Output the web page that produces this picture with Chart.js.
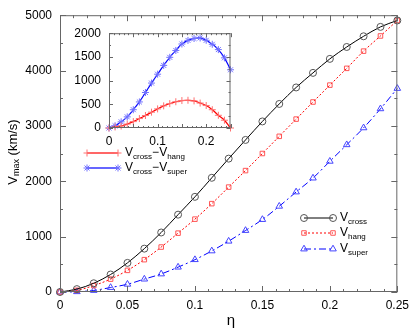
<!DOCTYPE html>
<html lang="en">
  <head>
    <meta charset="UTF-8" />
    <title>Vmax vs eta</title>
    <style>
      body { margin: 0; background: #fff; }
      .wrap { position: relative; width: 415px; height: 332px; }
      #inset { position: absolute; left: 65px; top: 18px; }
    </style>
    <script src="https://cdn.jsdelivr.net/npm/chart.js@4.4.0/dist/chart.umd.min.js"></script>
  </head>
  <body>
    <div class="wrap">
      <canvas id="mainChart" width="415" height="332"></canvas>
      <canvas id="inset" width="170" height="132"></canvas>
    </div>
    <script>
      // eta values (same grid for every curve)
      const eta = [0, 0.0125, 0.025, 0.0375, 0.05, 0.0625, 0.075, 0.0875, 0.1, 0.1125, 0.125,
        0.1375, 0.15, 0.1625, 0.175, 0.1875, 0.2, 0.2125, 0.225, 0.2375, 0.25];

      // main panel, km/s
      const vCross = [0, 52, 158, 316, 526, 783, 1075, 1397, 1719, 2063, 2409,
        2747, 3081, 3397, 3695, 3958, 4211, 4426, 4619, 4789, 4905];
      const vHang = [0, 30, 116, 233, 391, 584, 812, 1063, 1316, 1596, 1895,
        2193, 2502, 2812, 3123, 3432, 3737, 4040, 4351, 4625, 4905];
      const vSuper = [0, 5, 28, 81, 140, 233, 326, 449, 584, 742, 918,
        1111, 1309, 1549, 1807, 2058, 2361, 2660, 2965, 3309, 3677];

      // inset, km/s
      const diffHang = [0, 22, 42, 83, 135, 199, 263, 334, 403, 467, 514,
        554, 579, 585, 572, 526, 474, 386, 268, 164, 0];
      const diffSuper = [0, 47, 130, 235, 386, 550, 749, 948, 1135, 1321, 1491,
        1636, 1772, 1848, 1888, 1900, 1850, 1766, 1654, 1480, 1228];

      const mainXTicks = [0, 0.05, 0.1, 0.15, 0.2, 0.25];
      const mainYTicks = [0, 1000, 2000, 3000, 4000, 5000];
      const insetXTicks = [0, 0.1, 0.2];
      const insetYTicks = [0, 500, 1000, 1500, 2000];

      const FONT = "'Liberation Sans', Arial, sans-serif";
      const pts = (ys) => eta.map((x, i) => ({ x: x, y: ys[i] }));

      // frame + inward ticks on all four sides
      const frameTicks = {
        id: "frameTicks",
        afterDraw(chart, args, opts) {
          const ctx = chart.ctx;
          const a = chart.chartArea;
          const xs = chart.scales.x, ys = chart.scales.y;
          ctx.save();
          ctx.strokeStyle = "#666";
          ctx.lineWidth = 1;
          ctx.strokeRect(a.left + 0.5, a.top + 0.5, a.right - a.left - 1, a.bottom - a.top - 1);
          ctx.beginPath();
          const nx = Math.round((xs.max - xs.min) / opts.xMinor);
          for (let i = 0; i <= nx; i++) {
            const v = xs.min + i * opts.xMinor;
            const big = Math.abs(v / opts.xMajor - Math.round(v / opts.xMajor)) < 1e-6;
            const len = big ? opts.bigLen : opts.smallLen;
            const px = Math.round(xs.getPixelForValue(v)) + 0.5;
            ctx.moveTo(px, a.bottom); ctx.lineTo(px, a.bottom - len);
            ctx.moveTo(px, a.top); ctx.lineTo(px, a.top + len);
          }
          const ny = Math.round((ys.max - ys.min) / opts.yMinor);
          for (let i = 0; i <= ny; i++) {
            const v = ys.min + i * opts.yMinor;
            const big = Math.abs(v / opts.yMajor - Math.round(v / opts.yMajor)) < 1e-6;
            const len = big ? opts.bigLen : opts.smallLen;
            const py = Math.round(ys.getPixelForValue(v)) + 0.5;
            ctx.moveTo(a.left, py); ctx.lineTo(a.left + len, py);
            ctx.moveTo(a.right, py); ctx.lineTo(a.right - len, py);
          }
          ctx.stroke();
          ctx.restore();
        }
      };

      // text with subscripts: parts = [[text, isSub], ...]
      function subText(ctx, parts, x, y, size) {
        let cx = x;
        parts.forEach(([t, sub]) => {
          ctx.font = (sub ? Math.round(size * 0.68) : size) + "px " + FONT;
          ctx.fillText(t, cx, sub ? y + size * 0.3 : y);
          cx += ctx.measureText(t).width;
        });
        return cx - x;
      }
      function subWidth(ctx, parts, size) {
        let w = 0;
        parts.forEach(([t, sub]) => {
          ctx.font = (sub ? Math.round(size * 0.68) : size) + "px " + FONT;
          w += ctx.measureText(t).width;
        });
        return w;
      }

      function legendRow(ctx, x1, x2, y, ds, parts) {
        ctx.save();
        ctx.strokeStyle = ds.borderColor;
        ctx.lineWidth = ds.borderWidth;
        ctx.setLineDash(ds.borderDash || []);
        ctx.beginPath();
        ctx.moveTo(x1, y); ctx.lineTo(x2, y);
        ctx.stroke();
        ctx.setLineDash([]);
        ctx.fillStyle = "rgba(0,0,0,0)";
        ctx.strokeStyle = ds.pointBorderColor;
        ctx.lineWidth = 1;
        [x1, x2].forEach(px => Chart.helpers.drawPoint(ctx,
          { pointStyle: ds.pointStyle, radius: ds.pointRadius, rotation: 0, borderWidth: 1 }, px, y));
        ctx.fillStyle = "#000";
        ctx.textBaseline = "middle";
        ctx.textAlign = "left";
        subText(ctx, parts, x2 + 7, y, 12);
        ctx.restore();
      }

      const mainDs = [
        { label: "Vcross", data: pts(vCross), borderColor: "#000", pointBorderColor: "#555",
          borderWidth: 1, pointStyle: "circle", pointRadius: 3.5 },
        { label: "Vhang", data: pts(vHang), borderColor: "#ff0000", pointBorderColor: "#ff5555",
          borderWidth: 1, borderDash: [2, 2], pointStyle: "rect", pointRadius: 3.2 },
        { label: "Vsuper", data: pts(vSuper), borderColor: "#0000ff", pointBorderColor: "#4444ff",
          borderWidth: 1, borderDash: [7, 3, 2, 3], pointStyle: "triangle", pointRadius: 3.8 }
      ];
      const insetDs = [
        { label: "Vcross-Vhang", data: pts(diffHang), borderColor: "#ff0000", pointBorderColor: "#ff7070",
          borderWidth: 1.2, pointStyle: "cross", pointRadius: 3.5 },
        { label: "Vcross-Vsuper", data: pts(diffSuper), borderColor: "#0000ff", pointBorderColor: "#7070ff",
          borderWidth: 1.2, pointStyle: "star", pointRadius: 3.5 }
      ];
      [...mainDs, ...insetDs].forEach(d => {
        d.backgroundColor = "rgba(0,0,0,0)";
        d.pointBackgroundColor = "rgba(0,0,0,0)";
        d.pointBorderWidth = 1;
        d.pointHoverRadius = d.pointRadius;
        d.fill = false;
        d.clip = false;
      });
      mainDs.forEach(d => { d.cubicInterpolationMode = "monotone"; });
      insetDs.forEach(d => { d.tension = 0.4; });

      // axis titles and legends (subscripts need manual text)
      const labelsPlugin = {
        id: "labelsPlugin",
        afterDraw(chart) {
          const ctx = chart.ctx;
          ctx.save();
          ctx.fillStyle = "#000";
          ctx.textBaseline = "middle";
          // y title
          const yParts = [["V", false], ["max", true], [" (km/s)", false]];
          const w = subWidth(ctx, yParts, 13);
          ctx.save();
          ctx.translate(13, 152);
          ctx.rotate(-Math.PI / 2);
          ctx.textAlign = "left";
          subText(ctx, yParts, -w / 2, 0, 13);
          ctx.restore();
          // x title
          ctx.font = "15px " + FONT;
          ctx.textAlign = "center";
          ctx.fillText("\u03b7", 231, 321);
          ctx.restore();

          legendRow(ctx, 304, 333, 218, mainDs[0], [["V", false], ["cross", true]]);
          legendRow(ctx, 304, 333, 233, mainDs[1], [["V", false], ["hang", true]]);
          legendRow(ctx, 304, 333, 249, mainDs[2], [["V", false], ["super", true]]);

          legendRow(ctx, 87, 118, 153, insetDs[0],
            [["V", false], ["cross", true], ["\u2212V", false], ["hang", true]]);
          legendRow(ctx, 87, 118, 168, insetDs[1],
            [["V", false], ["cross", true], ["\u2212V", false], ["super", true]]);
        }
      };

      function axes(xMax, yMax, xTicks, yTicks, yWidth, xHeight) {
        const tickFont = { family: FONT, size: 12 };
        return {
          x: {
            type: "linear", min: 0, max: xMax,
            grid: { display: false, drawTicks: false },
            border: { display: false },
            afterBuildTicks: s => { s.ticks = xTicks.map(v => ({ value: v })); },
            afterFit: s => { s.height = xHeight; },
            ticks: { color: "#000", font: tickFont, padding: 6, maxRotation: 0,
              callback: v => String(v) }
          },
          y: {
            type: "linear", min: 0, max: yMax,
            grid: { display: false, drawTicks: false },
            border: { display: false },
            afterBuildTicks: s => { s.ticks = yTicks.map(v => ({ value: v })); },
            afterFit: s => { s.width = yWidth; },
            ticks: { color: "#000", font: tickFont, padding: 8,
              callback: v => String(v) }
          }
        };
      }

      new Chart(document.getElementById("mainChart").getContext("2d"), {
        type: "line",
        data: { datasets: mainDs },
        options: {
          responsive: false,
          devicePixelRatio: 1,
          animation: false,
          layout: { padding: { left: 0, right: 12, top: 6, bottom: 0 } },
          scales: axes(0.25, 5000, mainXTicks, mainYTicks, 60, 40),
          plugins: {
            legend: { display: false },
            tooltip: { enabled: false },
            frameTicks: { xMinor: 0.01, xMajor: 0.05, yMinor: 500, yMajor: 1000, bigLen: 6, smallLen: 3 }
          }
        },
        plugins: [frameTicks, labelsPlugin]
      });

      new Chart(document.getElementById("inset").getContext("2d"), {
        type: "line",
        data: { datasets: insetDs },
        options: {
          responsive: false,
          devicePixelRatio: 1,
          animation: false,
          layout: { padding: { left: 0, right: 4, top: 10, bottom: 0 } },
          scales: axes(0.25, 2000, insetXTicks, insetYTicks, 44, 22),
          plugins: {
            legend: { display: false },
            tooltip: { enabled: false },
            frameTicks: { xMinor: 0.01, xMajor: 0.05, yMinor: 250, yMajor: 500, bigLen: 4, smallLen: 2 }
          }
        },
        plugins: [frameTicks]
      });
    </script>
  </body>
</html>
